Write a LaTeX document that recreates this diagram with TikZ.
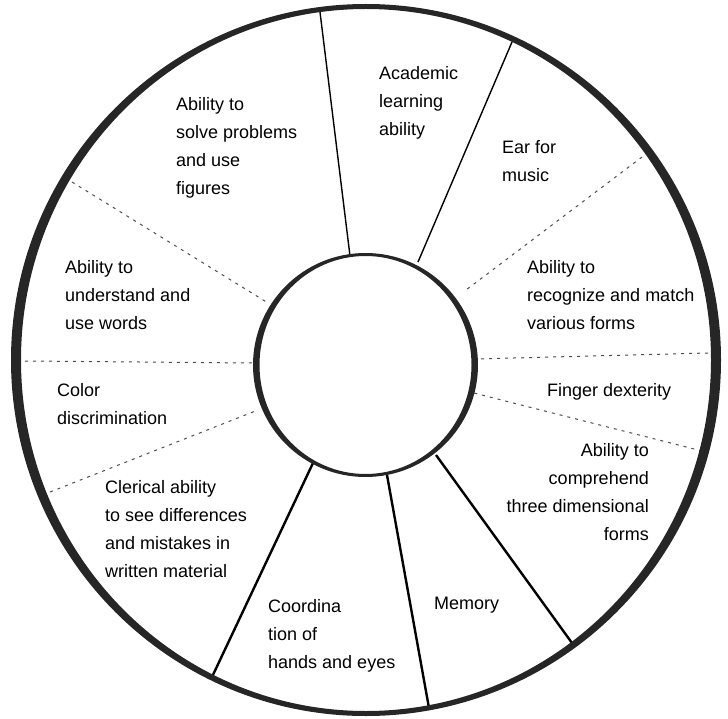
\documentclass[tikz,border=0pt]{standalone}
\usepackage{fontspec}
\setmainfont{Liberation Sans}
\begin{document}
\begin{tikzpicture}[x=1pt,y=-1pt,
  lbl/.style={inner sep=0pt, font=\fontsize{18}{28}\selectfont, align=left, anchor=north west},
  thinspoke/.style={draw=black, line width=1.4pt},
  thickspoke/.style={draw=black, line width=2.4pt},
  dashspoke/.style={draw=black!70, line width=1pt, dash pattern=on 3pt off 5pt},
  ring/.style={fill=black!85, even odd rule},
]
\useasboundingbox (0,0) rectangle (728,719);
% spoke end points
\coordinate (s1o) at (320,12);  \coordinate (s1i) at (350,256);
\coordinate (s2o) at (512,42);  \coordinate (s2i) at (418,262);
\coordinate (s3o) at (642,157); \coordinate (s3i) at (466,290);
\coordinate (s4o) at (708,353); \coordinate (s4i) at (475,359);
\coordinate (s5o) at (702,451); \coordinate (s5i) at (474,393);
\coordinate (s6o) at (572,643); \coordinate (s6i) at (436,455);
\coordinate (s7o) at (429,708); \coordinate (s7i) at (387,475);
\coordinate (s8o) at (212,677); \coordinate (s8i) at (313,463);
\coordinate (s9o) at (50,492);  \coordinate (s9i) at (258,410);
\coordinate (s10o) at (25,361); \coordinate (s10i) at (254,363);
\coordinate (s11o) at (72,182); \coordinate (s11i) at (268,303);
% spokes
\draw[thinspoke] (s1o) -- (s1i);
\draw[thinspoke] (s2o) -- (s2i);
\draw[dashspoke] (s3o) -- (s3i);
\draw[dashspoke] (s4o) -- (s4i);
\draw[dashspoke] (s5o) -- (s5i);
\draw[thickspoke] (s6o) -- (s6i);
\draw[thickspoke] (s7o) -- (s7i);
\draw[thickspoke] (s8o) -- (s8i);
\draw[dashspoke] (s9o) -- (s9i);
\draw[dashspoke] (s10o) -- (s10i);
\draw[dashspoke] (s11o) -- (s11i);
% rings
\fill[ring] (366,360) ellipse [x radius=355pt, y radius=356pt]
            (366,360) ellipse [x radius=345pt, y radius=351pt];
\fill[ring] (365.5,365) ellipse [x radius=112.5pt, y radius=112pt]
            (365.5,365) ellipse [x radius=106pt, y radius=109pt];
% labels
\node[lbl] (solve) at (176,97) {Ability to\\solve problems\\and use\\figures};
\node[lbl] (academic) at (379,66) {Academic\\learning\\ability};
\node[lbl] (ear) at (502,140) {Ear for\\music};
\node[lbl] (recognize) at (527,260) {Ability to\\recognize and match\\various forms};
\node[lbl] (finger) at (547,383) {Finger dexterity};
\node[lbl, align=right, anchor=north east] (comprehend) at (649,443) {Ability to\\comprehend\\three dimensional\\forms};
\node[lbl] (memory) at (434,597) {Memory};
\node[lbl] (coord) at (268,599) {Coordina\\tion of\\hands and eyes};
\node[lbl] (clerical) at (105,480) {Clerical ability\\to see differences\\and mistakes in\\written material};
\node[lbl] (color) at (57,383) {Color\\discrimination};
\node[lbl] (words) at (65,260) {Ability to\\understand and\\use words};
\end{tikzpicture}
\end{document}
